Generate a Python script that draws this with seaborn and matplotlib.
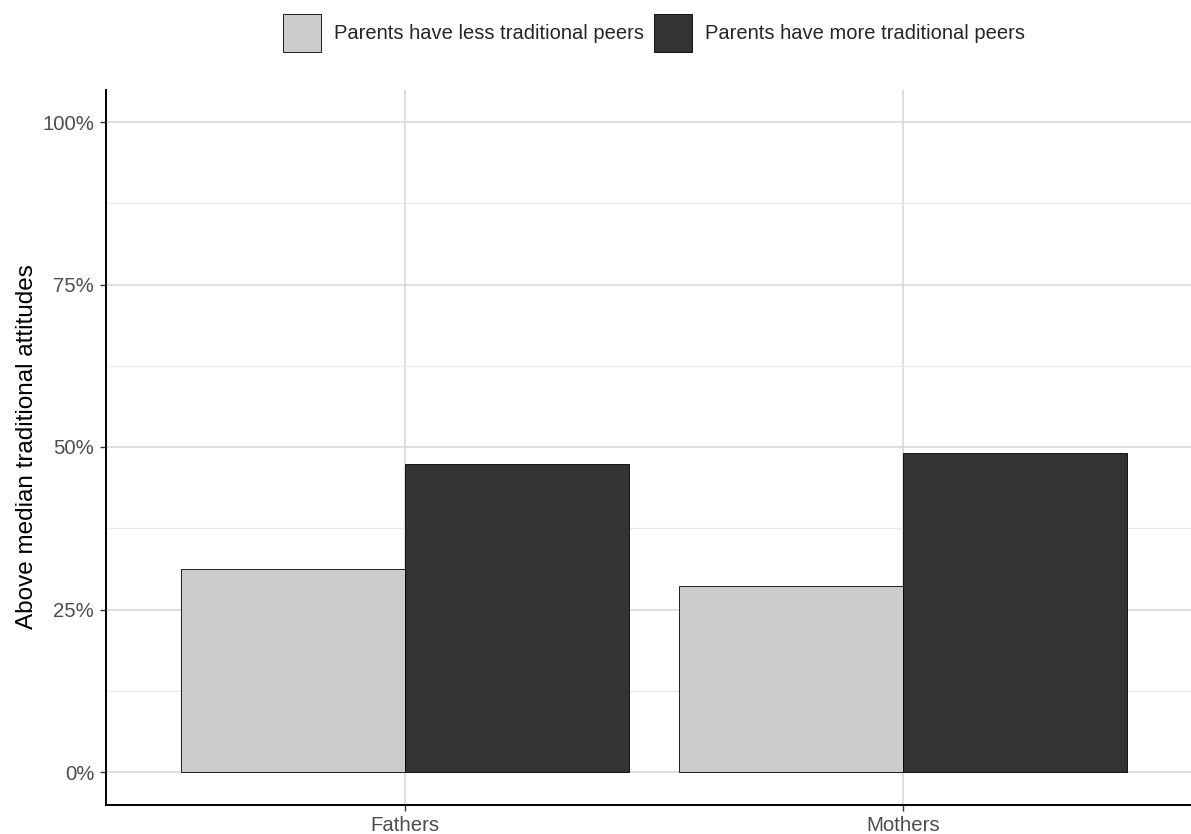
import pandas as pd
import seaborn as sns
import matplotlib.pyplot as plt
from matplotlib.ticker import PercentFormatter, FixedLocator

# data
parents = ['Fathers', 'Mothers']
peer_groups = ['Parents have less traditional peers', 'Parents have more traditional peers']
less_trad = [0.313, 0.286]
more_trad = [0.474, 0.491]
bar_colors = ['#CCCCCC', '#333333']

df = pd.DataFrame({
    'parent': parents * 2,
    'peers': [peer_groups[0]] * 2 + [peer_groups[1]] * 2,
    'share': less_trad + more_trad,
})

sns.set_style('white')
plt.rcParams['font.family'] = ['Liberation Sans', 'DejaVu Sans']

fig = plt.figure(figsize=(11.91, 8.34), dpi=100)
# panel is wider than the image on the right (cropped like the original)
ax = fig.add_axes([106 / 1191, 29.5 / 834, 1095.6 / 1191, 715 / 834])

sns.barplot(data=df, x='parent', y='share', hue='peers', order=parents,
            hue_order=peer_groups, palette=dict(zip(peer_groups, bar_colors)),
            width=0.9, edgecolor='black', linewidth=0.6, saturation=1,
            errorbar=None, ax=ax, zorder=3)

ax.set_xlim(-0.6, 1.6)
ax.set_ylim(-0.05, 1.05)
ax.yaxis.set_major_locator(FixedLocator([0, 0.25, 0.5, 0.75, 1.0]))
ax.yaxis.set_minor_locator(FixedLocator([0.125, 0.375, 0.625, 0.875]))
ax.yaxis.set_major_formatter(PercentFormatter(1.0, decimals=0))

ax.grid(True, which='major', color='#D6D6D6', linewidth=1.1, zorder=0)
ax.grid(True, which='minor', axis='y', color='#E8E8E8', linewidth=0.8, zorder=0)
ax.set_axisbelow(True)

for s in ['top', 'right']:
    ax.spines[s].set_visible(False)
for s in ['left', 'bottom']:
    ax.spines[s].set_color('black')
    ax.spines[s].set_linewidth(1.4)

ax.tick_params(axis='both', which='major', length=4, width=1, color='#333333',
               labelsize=14.7, labelcolor='#4D4D4D', pad=4.5, left=True, bottom=True)
ax.tick_params(axis='y', which='minor', length=0)

ax.set_xlabel('')
ax.set_ylabel('Above median traditional attitudes', fontsize=17.5, color='black', labelpad=3)

ax.get_legend().remove()
handles = [plt.Rectangle((0, 0), 1, 1, facecolor=c, edgecolor='black', linewidth=0.6)
           for c in bar_colors]
fig.legend(handles, peer_groups, loc='upper center', bbox_to_anchor=(654 / 1191, 1 - 14 / 834),
           ncol=2, frameon=False, fontsize=14.5, handlelength=1.9, handleheight=2.53,
           handletextpad=0.65, columnspacing=0.5, borderaxespad=0, borderpad=0)

fig.savefig('out.png', dpi=100)
